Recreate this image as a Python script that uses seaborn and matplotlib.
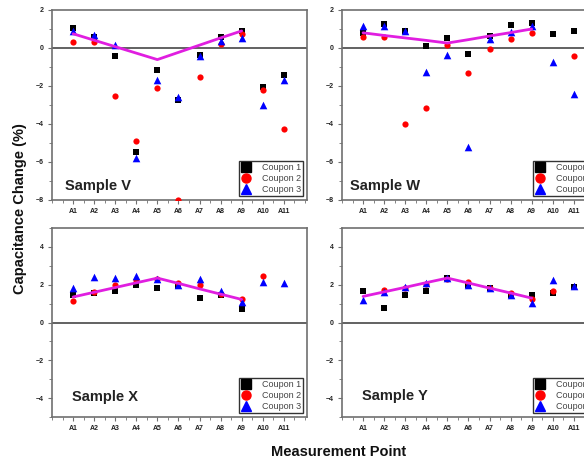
import numpy as np
import pandas as pd
import matplotlib
matplotlib.use("Agg")
import matplotlib.pyplot as plt
from matplotlib.lines import Line2D
from matplotlib.ticker import MultipleLocator
import seaborn as sns

sns.set_theme(style="white")
plt.rcParams["font.family"] = ["Liberation Sans", "DejaVu Sans"]

points = ["A1", "A2", "A3", "A4", "A5", "A6", "A7", "A8", "A9", "A10", "A11"]
coupons = ["Coupon 1", "Coupon 2", "Coupon 3"]
nan = np.nan

# Sample V
v_c1 = [1.05, 0.56, -0.40, -5.46, -1.18, -2.74, -0.37, 0.60, 0.88, -2.05, -1.42]
v_c2 = [0.30, 0.33, -2.53, -4.88, -2.12, -7.98, -1.51, 0.21, 0.74, -2.23, -4.25]
v_c3 = [0.88, 0.68, 0.16, -5.81, -1.67, -2.58, -0.44, 0.35, 0.51, -3.02, -1.67]
v_avg = [0.75, 0.41, 0.07, -0.27, -0.61, -0.23, 0.15, 0.53, 0.90]

# Sample W
w_c1 = [0.79, 1.26, 0.88, 0.09, 0.51, -0.33, 0.65, 1.21, 1.30, 0.74, 0.88]
w_c2 = [0.56, 0.56, -3.98, -3.16, 0.16, -1.33, -0.05, 0.47, 0.77, nan, -0.40]
w_c3 = [1.18, 1.14, 0.88, -1.25, -0.37, -5.22, 0.47, 0.82, 1.14, -0.75, -2.42]
w_avg = [0.80, 0.66, 0.53, 0.40, 0.26, 0.44, 0.63, 0.81, 1.00]

# Sample X
x_c1 = [1.43, 1.57, 1.68, 1.96, 1.82, 1.93, 1.31, 1.47, 0.69, nan, nan]
x_c2 = [1.12, 1.60, 2.00, 2.23, 2.30, 2.09, 2.00, 1.52, 1.22, 2.46, nan]
x_c3 = [1.82, 2.41, 2.35, 2.48, 2.32, 1.96, 2.28, 1.65, 1.08, 2.14, 2.09]
x_avg = [1.35, 1.60, 1.85, 2.10, 2.35, 2.07, 1.78, 1.50, 1.22]

# Sample Y
y_c1 = [1.65, 0.76, 1.43, 1.66, 2.33, 2.00, 1.82, 1.45, 1.43, 1.58, 1.86]
y_c2 = [nan, 1.70, 1.82, 2.05, 2.32, 2.14, 1.82, 1.56, 1.26, 1.65, nan]
y_c3 = [1.17, 1.61, 1.88, 2.11, 2.35, 2.00, 1.82, 1.43, 1.04, 2.23, 1.93]
y_avg = [1.38, 1.62, 1.86, 2.11, 2.35, 2.09, 1.82, 1.56, 1.29]

samples = [
    ("Sample V", v_c1, v_c2, v_c3, v_avg, (-8, 2), 2),
    ("Sample W", w_c1, w_c2, w_c3, w_avg, (-8, 2), 2),
    ("Sample X", x_c1, x_c2, x_c3, x_avg, (-5, 5), 2),
    ("Sample Y", y_c1, y_c2, y_c3, y_avg, (-5, 5), 2),
]

palette = {"Coupon 1": "black", "Coupon 2": "#ff0000", "Coupon 3": "#0000ff"}
markers = {"Coupon 1": "s", "Coupon 2": "o", "Coupon 3": "^"}
sizes = {"Coupon 1": 20, "Coupon 2": 20, "Coupon 3": 30}
leg_sizes = {"Coupon 1": 6.5, "Coupon 2": 6.5, "Coupon 3": 7.5}

W, H = 584, 462
fig = plt.figure(figsize=(W / 100, H / 100), dpi=100)

# axes rectangles in pixels: left, top, right, bottom
rects = [(52, 10, 307, 200), (342, 10, 597, 200),
         (52, 228, 307, 417), (342, 228, 597, 417)]
text_pos = [(0.05, 0.075), (0.03, 0.075), (0.08, 0.105), (0.078, 0.11)]

spine_col = "#707070"
for (name, c1, c2, c3, avg, ylim, ystep), (l, t, r, b), tp in zip(samples, rects, text_pos):
    ax = fig.add_axes([l / W, 1 - b / H, (r - l) / W, (b - t) / H])
    idx = np.arange(1, len(points) + 1)
    df = pd.DataFrame({
        "pos": np.tile(idx, 3),
        "val": np.concatenate([c1, c2, c3]),
        "Coupon": np.repeat(coupons, len(points)),
    })
    ax.axhline(0, color="#555555", lw=1.3, zorder=1)
    for cp in coupons:
        sns.scatterplot(data=df[df["Coupon"] == cp], x="pos", y="val",
                        color=palette[cp], marker=markers[cp], s=sizes[cp],
                        linewidth=0, ax=ax, legend=False, zorder=3)
    trend = pd.DataFrame({"pos": np.arange(1, len(avg) + 1), "val": avg})
    sns.lineplot(data=trend, x="pos", y="val", color="#e01ee0", lw=2.0,
                 ax=ax, legend=False, zorder=4)

    ax.set_xlim(0, 12.1)
    ax.set_ylim(*ylim)
    ax.set_xticks(idx)
    ax.set_xticklabels(points)
    ax.xaxis.set_minor_locator(MultipleLocator(0.5))
    ax.yaxis.set_major_locator(MultipleLocator(ystep))
    ax.yaxis.set_minor_locator(MultipleLocator(1))
    ax.set_xlabel("")
    ax.set_ylabel("")
    ax.tick_params(axis="both", which="major", direction="out", length=3,
                   width=0.8, color=spine_col, labelsize=5, pad=3,
                   bottom=True, left=True)
    ax.tick_params(axis="both", which="minor", direction="out", length=2,
                   width=0.6, color=spine_col, bottom=True, left=True)
    for lab in ax.get_xticklabels() + ax.get_yticklabels():
        lab.set_fontweight("bold")
        lab.set_color("#222222")
    for sp in ax.spines.values():
        sp.set_color(spine_col)
        sp.set_linewidth(1.2)

    ax.text(tp[0], tp[1], name, transform=ax.transAxes, fontsize=10.5,
            fontweight="bold", color="#222222", ha="left", va="center")

    handles = [Line2D([], [], linestyle="none", marker=markers[cp],
                      markerfacecolor=palette[cp], markeredgecolor=palette[cp],
                      markersize=leg_sizes[cp])
               for cp in coupons]
    leg = ax.legend(handles, coupons, loc="lower right",
                    bbox_to_anchor=(0.985, 0.02) if l < 100 else (1.0, 0.02),
                    fontsize=6.5, frameon=True, fancybox=False,
                    borderpad=0.25, labelspacing=0.2, handlelength=1.2,
                    handletextpad=1.1, borderaxespad=0)
    leg.get_frame().set_edgecolor("black")
    leg.get_frame().set_linewidth(1.0)
    for txt in leg.get_texts():
        txt.set_color("#444444")

fig.text(20 / W, 1 - 209 / H, "Capacitance Change (%)", rotation=90,
         fontsize=10.5, fontweight="bold", ha="center", va="center",
         color="#111111")
fig.text(339 / W, 1 - 452 / H, "Measurement Point", fontsize=10.5,
         fontweight="bold", ha="center", va="center", color="#111111")

fig.savefig("out.png", dpi=100)
